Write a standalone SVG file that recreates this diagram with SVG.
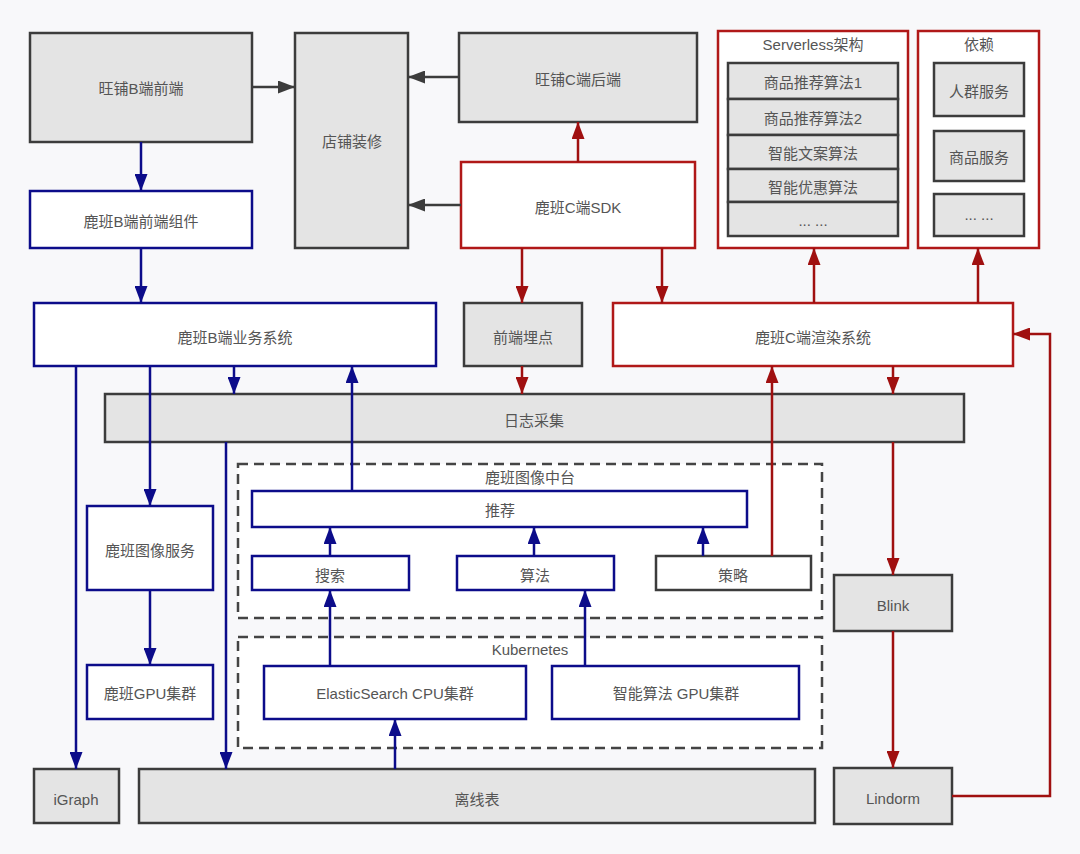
<svg xmlns="http://www.w3.org/2000/svg" width="1080" height="854" viewBox="0 0 1080 854">
<defs>
<style>
.t{font-family:"Liberation Sans","Noto Sans CJK SC",sans-serif;font-size:15px;fill:#555;text-anchor:middle;dominant-baseline:central}
.g{fill:#e4e4e4;stroke:#3c3c3c;stroke-width:2.5}
.b{fill:#fff;stroke:#0c0c8a;stroke-width:2.5}
.r{fill:#fff;stroke:#b01818;stroke-width:2.5}
.w{fill:#fff;stroke:#3c3c3c;stroke-width:2.5}
.d{fill:#fff;stroke:#444;stroke-width:2.5;stroke-dasharray:10 6}
.cg{fill:none;stroke:#3c3c3c;stroke-width:2.5;marker-end:url(#ag)}
.cb{fill:none;stroke:#0c0c8a;stroke-width:2.5;marker-end:url(#ab)}
.cr{fill:none;stroke:#a01010;stroke-width:2.5;marker-end:url(#ar)}
</style>
<marker id="ag" markerUnits="userSpaceOnUse" markerWidth="17" markerHeight="13" refX="17" refY="6.5" orient="auto"><path d="M0,0 L17,6.5 L0,13 z" fill="#3c3c3c"/></marker>
<marker id="ab" markerUnits="userSpaceOnUse" markerWidth="17" markerHeight="13" refX="17" refY="6.5" orient="auto"><path d="M0,0 L17,6.5 L0,13 z" fill="#0c0c8a"/></marker>
<marker id="ar" markerUnits="userSpaceOnUse" markerWidth="17" markerHeight="13" refX="17" refY="6.5" orient="auto"><path d="M0,0 L17,6.5 L0,13 z" fill="#a01010"/></marker>
</defs>
<rect x="0" y="0" width="1080" height="854" fill="#f8f8fa"/>

<g id="wangpu-b-front"><rect class="g" x="30" y="33" width="222" height="109"/><text class="t" x="141" y="88">旺铺B端前端</text></g>
<g id="dianpu"><rect class="g" x="295" y="33" width="113" height="215"/><text class="t" x="352" y="141">店铺装修</text></g>
<g id="wangpu-c-back"><rect class="g" x="459" y="33" width="238" height="89"/><text class="t" x="578" y="79">旺铺C端后端</text></g>
<g id="luban-c-sdk"><rect class="r" x="461" y="162" width="234" height="86"/><text class="t" x="578" y="207">鹿班C端SDK</text></g>
<g id="serverless">
<rect class="r" x="718" y="31" width="190" height="217"/>
<text class="t" x="813" y="44">Serverless架构</text>
<rect class="g" x="728" y="63" width="170" height="36"/><text class="t" x="813" y="82">商品推荐算法1</text>
<rect class="g" x="728" y="99" width="170" height="36"/><text class="t" x="813" y="118">商品推荐算法2</text>
<rect class="g" x="728" y="135" width="170" height="34"/><text class="t" x="813" y="153">智能文案算法</text>
<rect class="g" x="728" y="169" width="170" height="33"/><text class="t" x="813" y="187">智能优惠算法</text>
<rect class="g" x="728" y="202" width="170" height="34"/><text class="t" x="813" y="220">... ...</text>
</g>
<g id="yilai">
<rect class="r" x="918" y="31" width="121" height="217"/>
<text class="t" x="979" y="44">依赖</text>
<rect class="g" x="934" y="63" width="90" height="53"/><text class="t" x="979" y="91">人群服务</text>
<rect class="g" x="934" y="131" width="90" height="50"/><text class="t" x="979" y="157">商品服务</text>
<rect class="g" x="934" y="194" width="90" height="42"/><text class="t" x="979" y="214">... ...</text>
</g>
<g id="luban-b-comp"><rect class="b" x="30" y="191" width="222" height="57"/><text class="t" x="141" y="221">鹿班B端前端组件</text></g>
<g id="luban-b-biz"><rect class="b" x="34" y="303" width="402" height="63"/><text class="t" x="235" y="337">鹿班B端业务系统</text></g>
<g id="maidian"><rect class="g" x="464" y="303" width="118" height="63"/><text class="t" x="523" y="337">前端埋点</text></g>
<g id="luban-c-render"><rect class="r" x="613" y="303" width="400" height="63"/><text class="t" x="813" y="337">鹿班C端渲染系统</text></g>
<g id="log"><rect class="g" x="105" y="394" width="859" height="48"/><text class="t" x="534" y="420">日志采集</text></g>
<g id="image-platform">
<rect class="d" x="238" y="464" width="584" height="154"/>
<text class="t" x="530" y="477">鹿班图像中台</text>
</g>
<g id="tuijian"><rect class="b" x="252" y="491" width="495" height="36"/><text class="t" x="500" y="510">推荐</text></g>
<g id="sousuo"><rect class="b" x="252" y="556" width="157" height="34"/><text class="t" x="330" y="575">搜索</text></g>
<g id="suanfa"><rect class="b" x="457" y="556" width="157" height="34"/><text class="t" x="535" y="575">算法</text></g>
<g id="celue"><rect class="w" x="656" y="556" width="155" height="34"/><text class="t" x="733" y="575">策略</text></g>
<g id="kubernetes">
<rect class="d" x="238" y="637" width="584" height="111"/>
<text class="t" x="530" y="649">Kubernetes</text>
</g>
<g id="es-cpu"><rect class="b" x="264" y="666" width="262" height="53"/><text class="t" x="395" y="693">ElasticSearch CPU集群</text></g>
<g id="ai-gpu"><rect class="b" x="552" y="666" width="247" height="53"/><text class="t" x="676" y="693">智能算法 GPU集群</text></g>
<g id="image-service"><rect class="b" x="87" y="506" width="126" height="84"/><text class="t" x="150" y="550">鹿班图像服务</text></g>
<g id="gpu-cluster"><rect class="b" x="87" y="665" width="126" height="54"/><text class="t" x="150" y="693">鹿班GPU集群</text></g>
<g id="blink"><rect class="g" x="834" y="575" width="118" height="56"/><text class="t" x="893" y="605">Blink</text></g>
<g id="lindorm"><rect class="g" x="834" y="768" width="118" height="56"/><text class="t" x="893" y="798">Lindorm</text></g>
<g id="igraph"><rect class="g" x="34" y="769" width="85" height="54"/><text class="t" x="76" y="799">iGraph</text></g>
<g id="offline"><rect class="g" x="139" y="769" width="676" height="54"/><text class="t" x="477" y="799">离线表</text></g>

<g id="connectors">
<path class="cg" d="M252,87 H295"/>
<path class="cg" d="M459,77 H408"/>
<path class="cg" d="M461,205 H408"/>
<path class="cb" d="M141,142 V191"/>
<path class="cb" d="M141,248 V303"/>
<path class="cb" d="M76,366 V769"/>
<path class="cb" d="M150,366 V506"/>
<path class="cb" d="M234,366 V394"/>
<path class="cb" d="M352,491 V366"/>
<path class="cb" d="M226,442 V769"/>
<path class="cb" d="M150,590 V665"/>
<path class="cb" d="M330,556 V527"/>
<path class="cb" d="M534,556 V527"/>
<path class="cb" d="M703,556 V527"/>
<path class="cb" d="M330,666 V590"/>
<path class="cb" d="M585,666 V590"/>
<path class="cb" d="M395,769 V719"/>
<path class="cr" d="M578,162 V122"/>
<path class="cr" d="M522,248 V303"/>
<path class="cr" d="M662,248 V303"/>
<path class="cr" d="M522,366 V394"/>
<path class="cr" d="M814,303 V248"/>
<path class="cr" d="M978,303 V248"/>
<path class="cr" d="M893,366 V394"/>
<path class="cr" d="M893,442 V575"/>
<path class="cr" d="M772,556 V366"/>
<path class="cr" d="M893,631 V768"/>
<path class="cr" d="M952,796 H1050 V334 H1013"/>
</g>
</svg>
